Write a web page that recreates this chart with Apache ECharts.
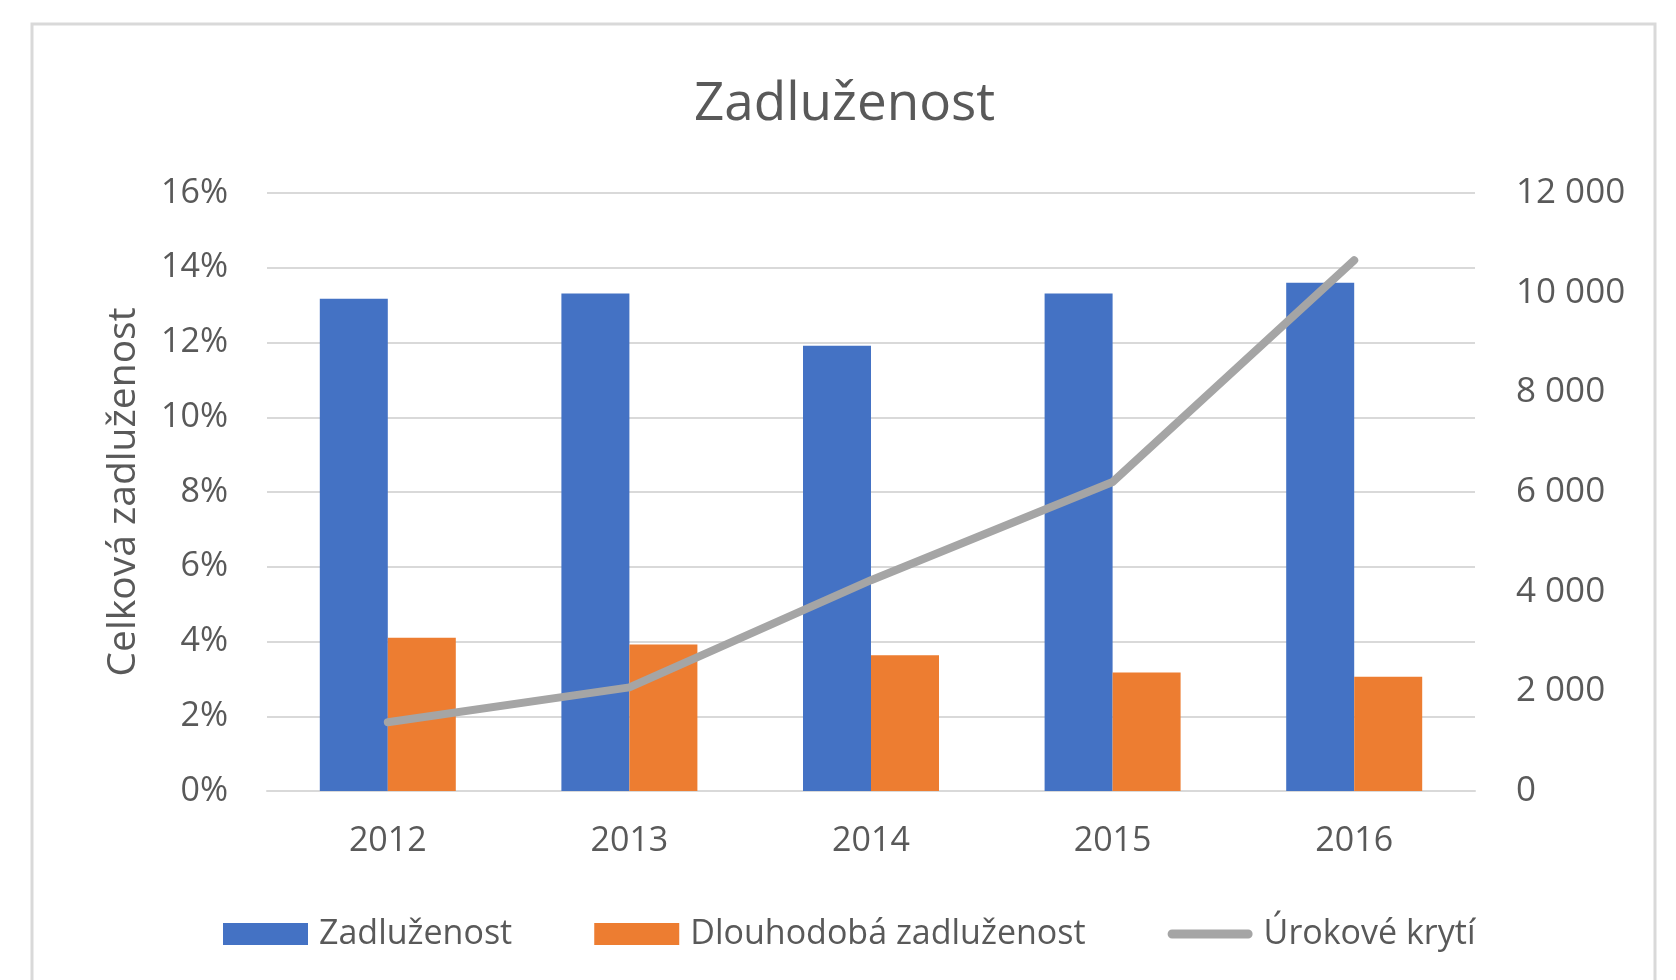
<!DOCTYPE html>
<html>
<head>
<meta charset="utf-8">
<script src="https://cdn.jsdelivr.net/npm/echarts@6/dist/echarts.min.js"></script>
<style>
  html, body { margin: 0; padding: 0; background: #ffffff; }
  #chart { width: 1676px; height: 980px; }
</style>
</head>
<body>
<div id="chart"></div>
<script>
// data
var years = ['2012', '2013', '2014', '2015', '2016']
var zadluzenost = [13.17, 13.31, 11.91, 13.31, 13.6]        // %
var dlouhodobaZadluzenost = [4.1, 3.92, 3.63, 3.17, 3.06]   // %
var urokoveKryti = [1380, 2080, 4230, 6200, 10650]

var textColor = '#595959'
var fontFamily = '"Open Sans", "Noto Sans", sans-serif'

function thousands (v) {
    return String(v).replace(/\B(?=(\d{3})+(?!\d))/g, ' ')
}

// thick rounded bar for the line series legend icon
var lineIcon = 'path://M5,0 L91,0 A5,5 0 0 1 91,10 L5,10 A5,5 0 0 1 5,0 Z'

var chart = echarts.init(document.getElementById('chart'))

var option = {
    backgroundColor: '#ffffff',
    textStyle: { fontFamily: fontFamily, color: textColor },
    graphic: [{
        type: 'rect',
        shape: { x: 32, y: 24, width: 1623, height: 1000 },
        style: { fill: 'none', stroke: '#D9D9D9', lineWidth: 3 },
        silent: true
    }],
    title: {
        text: 'Zadluženost',
        left: 689,
        top: 73,
        textStyle: { fontSize: 53, fontWeight: 'normal', color: textColor, fontFamily: fontFamily }
    },
    legend: {
        bottom: 24,
        left: 218,
        itemWidth: 85,
        itemHeight: 22,
        itemGap: 82,
        textStyle: { fontSize: 34, color: textColor, fontFamily: fontFamily, padding: [0, 0, 0, 6] },
        data: [
            { name: 'Zadluženost', icon: 'rect' },
            { name: 'Dlouhodobá zadluženost', icon: 'rect' },
            { name: 'Úrokové krytí', icon: lineIcon }
        ]
    },
    grid: {
        left: 267,
        right: 201,
        top: 193,
        bottom: 189
    },
    xAxis: {
        type: 'category',
        data: years,
        axisTick: { show: false },
        axisLine: { lineStyle: { color: '#D9D9D9', width: 2 } },
        axisLabel: { fontSize: 34, color: textColor, margin: 33 }
    },
    yAxis: [{
        type: 'value',
        min: 0,
        max: 16,
        interval: 2,
        name: 'Celková zadluženost',
        nameLocation: 'middle',
        nameGap: 124,
        nameTextStyle: { fontSize: 39, color: textColor },
        axisLine: { show: false },
        axisTick: { show: false },
        axisLabel: { fontSize: 34, color: textColor, margin: 39, formatter: '{value}%' },
        splitLine: { lineStyle: { color: '#D9D9D9', width: 2 } }
    }, {
        type: 'value',
        min: 0,
        max: 12000,
        interval: 2000,
        axisLine: { show: false },
        axisTick: { show: false },
        axisLabel: { fontSize: 35, color: textColor, margin: 41, formatter: thousands },
        splitLine: { show: false }
    }],
    series: [{
        name: 'Zadluženost',
        type: 'bar',
        data: zadluzenost,
        barWidth: 68,
        barGap: '0%',
        itemStyle: { color: '#4472C4' }
    }, {
        name: 'Dlouhodobá zadluženost',
        type: 'bar',
        data: dlouhodobaZadluzenost,
        barWidth: 68,
        barGap: '0%',
        itemStyle: { color: '#ED7D31' }
    }, {
        name: 'Úrokové krytí',
        type: 'line',
        yAxisIndex: 1,
        data: urokoveKryti,
        symbol: 'none',
        lineStyle: { color: '#A5A5A5', width: 8, cap: 'round', join: 'round' },
        itemStyle: { color: '#A5A5A5' }
    }]
}

chart.setOption(option)
</script>
</body>
</html>
